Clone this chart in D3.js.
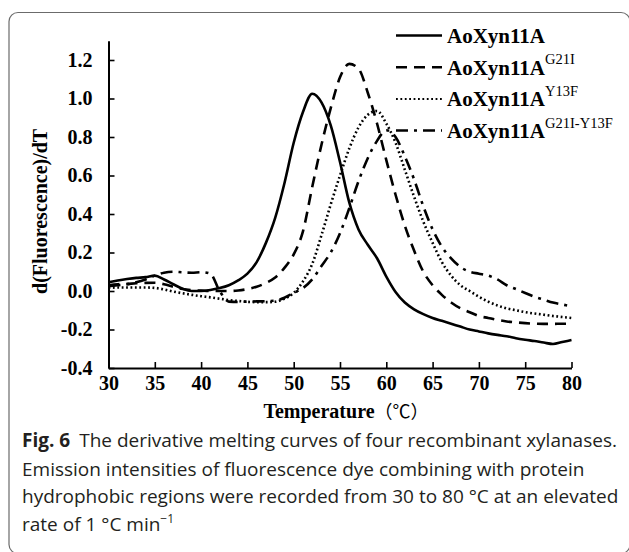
<!DOCTYPE html>
<html>
<head>
<meta charset="utf-8">
<script src="https://cdn.jsdelivr.net/npm/d3@7"></script>
<style>
body { margin: 0; background: #fff; }
</style>
</head>
<body>
<div id="app"></div>
<script>
'use strict'

// Temperature (C) of every reading
const temps = [30, 31, 32, 33, 34, 35, 36, 37, 38, 39,
	40, 41, 42, 43, 44, 45, 46, 47, 48, 49,
	50, 51, 52, 53, 54, 55, 56, 57, 58, 59,
	60, 61, 62, 63, 64, 65, 66, 67, 68, 69,
	70, 71, 72, 73, 74, 75, 76, 77, 78, 79, 80]

// d(Fluorescence)/dT for the four enzymes
const wildType = [0.045, 0.055, 0.062, 0.068, 0.072, 0.08, 0.06, 0.035, 0.012, 0.0,
	0.0, 0.005, 0.015, 0.03, 0.055, 0.09, 0.15, 0.25, 0.38, 0.56,
	0.77, 0.93, 1.025, 0.98, 0.86, 0.67, 0.46, 0.32, 0.24, 0.17,
	0.075, -0.005, -0.06, -0.095, -0.12, -0.14, -0.155, -0.17, -0.185, -0.2,
	-0.21, -0.22, -0.228, -0.235, -0.245, -0.253, -0.26, -0.268, -0.275, -0.265, -0.255]

const g21i = [0.03, 0.035, 0.037, 0.04, 0.042, 0.043, 0.035, 0.022, 0.01, 0.004,
	0.002, 0.0, 0.0, 0.0, 0.003, 0.01, 0.022, 0.042, 0.07, 0.12,
	0.19, 0.31, 0.54, 0.76, 0.95, 1.11, 1.18, 1.155, 1.03, 0.87,
	0.68, 0.5, 0.34, 0.21, 0.1, 0.03, -0.02, -0.06, -0.09, -0.11,
	-0.13, -0.14, -0.15, -0.158, -0.163, -0.167, -0.17, -0.171, -0.171, -0.17, -0.17]

const y13f = [0.017, 0.018, 0.018, 0.018, 0.018, 0.016, 0.008, -0.003, -0.012, -0.02,
	-0.027, -0.033, -0.04, -0.047, -0.052, -0.056, -0.058, -0.058, -0.056, -0.04,
	-0.01, 0.05, 0.14, 0.29, 0.45, 0.6, 0.74, 0.85, 0.915, 0.935,
	0.87, 0.77, 0.63, 0.49, 0.36, 0.25, 0.15, 0.08, 0.03, 0.0,
	-0.03, -0.055, -0.075, -0.09, -0.1, -0.11, -0.117, -0.123, -0.13, -0.135, -0.14]

const g21iY13f = [0.025, 0.03, 0.035, 0.045, 0.06, 0.08, 0.095, 0.1, 0.097, 0.095,
	0.098, 0.09, 0.0, -0.055, -0.057, -0.055, -0.054, -0.053, -0.05, -0.035,
	-0.01, 0.015, 0.06, 0.13, 0.2, 0.3, 0.43, 0.57, 0.69, 0.78,
	0.835, 0.8, 0.7, 0.58, 0.44, 0.32, 0.23, 0.17, 0.125, 0.1,
	0.09, 0.08, 0.06, 0.03, 0.01, -0.01, -0.03, -0.045, -0.06, -0.07, -0.08]

const seriesBase = 'AoXyn11A'
const seriesSup = ['', 'G21I', 'Y13F', 'G21I-Y13F']

const xTicks = [30, 35, 40, 45, 50, 55, 60, 65, 70, 75, 80]
const yTicks = [-0.4, -0.2, 0.0, 0.2, 0.4, 0.6, 0.8, 1.0, 1.2]

const captionLines = [
	'Emission intensities of fluorescence dye combining with protein',
	'hydrophobic regions were recorded from 30 to 80 °C at an elevated'
]

const main = () => {
	const W = 629
	const H = 552
	const margin = { top: 40.75, left: 108.5 }
	const width = 463
	const height = 327.25
	const serif = '"Liberation Serif", "Times New Roman", serif'
	const sans = '"Open Sans", "Noto Sans", sans-serif'

	const svg = d3.select('#app').append('svg')
		.attr('width', W)
		.attr('height', H)
		.style('display', 'block')
		.style('background', '#fff')

	// rounded figure frame
	svg.append('rect')
		.attr('x', 9)
		.attr('y', 12.5)
		.attr('width', 621)
		.attr('height', 541)
		.attr('rx', 9)
		.attr('fill', 'none')
		.attr('stroke', '#6b6b6b')
		.attr('stroke-width', 1.2)

	const g = svg.append('g')
		.attr('transform', `translate(${margin.left}, ${margin.top})`)

	const x = d3.scaleLinear().domain([30, 80]).range([0, width])
	const y = d3.scaleLinear().domain([-0.4, 1.3]).range([height, 0])

	/*
	 * Axes, ticks pointing inward
	 */
	const xAxis = g.append('g')
		.attr('transform', `translate(0, ${height})`)
		.call(d3.axisBottom(x).tickValues(xTicks).tickSize(-6).tickSizeOuter(0).tickPadding(8))

	const yAxis = g.append('g')
		.call(d3.axisLeft(y).tickValues(yTicks).tickSize(-6).tickSizeOuter(0).tickPadding(16)
			.tickFormat(d => d.toFixed(1)))

	;[xAxis, yAxis].forEach(a => {
		a.attr('font-family', serif).attr('font-size', 20)
		a.select('.domain').attr('stroke', '#000').attr('stroke-width', 2)
		a.selectAll('.tick line').attr('stroke', '#000').attr('stroke-width', 1.6)
		a.selectAll('.tick text').attr('fill', '#000').attr('font-weight', 'bold')
	})

	// axis titles
	svg.append('text')
		.attr('transform', `translate(47, ${margin.top + height / 2 + 7}) rotate(-90)`)
		.attr('text-anchor', 'middle')
		.attr('font-family', serif)
		.attr('font-weight', 'bold')
		.attr('font-size', 20)
		.text('d(Fluorescence)/dT')

	const xTitle = svg.append('text')
		.attr('x', margin.left + width / 2 + 6)
		.attr('y', 418)
		.attr('text-anchor', 'middle')
		.attr('font-family', serif)
		.attr('font-weight', 'bold')
		.attr('font-size', 20)
	xTitle.append('tspan').text('Temperature')
	xTitle.append('tspan')
		.attr('font-family', '"Noto Sans CJK SC", sans-serif')
		.attr('font-weight', 'normal')
		.attr('font-size', 18)
		.text('（℃）')

	/*
	 * Curves
	 */
	const styles = [
		{ data: wildType, dash: null },
		{ data: g21i, dash: '11,7' },
		{ data: y13f, dash: '1.8,2.6' },
		{ data: g21iY13f, dash: '12,6,3,6' }
	]

	const line = d3.line()
		.x((d, i) => x(temps[i]))
		.y(d => y(d))
		.curve(d3.curveMonotoneX)

	g.selectAll('.curve')
		.data(styles)
		.enter().append('path')
		.attr('class', 'curve')
		.attr('d', d => line(d.data))
		.attr('fill', 'none')
		.attr('stroke', '#000')
		.attr('stroke-width', 2.6)
		.attr('stroke-dasharray', d => d.dash)

	/*
	 * Legend
	 */
	const legend = svg.append('g')
		.attr('transform', 'translate(396, 43)')

	const rows = legend.selectAll('.row')
		.data(styles)
		.enter().append('g')
		.attr('class', 'row')
		.attr('transform', (d, i) => `translate(0, ${i * 31.7})`)

	rows.append('line')
		.attr('x1', 0)
		.attr('x2', 46)
		.attr('y1', -7.5)
		.attr('y2', -7.5)
		.attr('stroke', '#000')
		.attr('stroke-width', (d, i) => i === 2 ? 2 : 2.5)
		.attr('stroke-dasharray', d => d.dash)

	const labels = rows.append('text')
		.attr('x', 51)
		.attr('y', 0)
		.attr('font-family', serif)
		.attr('font-size', 21)
		.attr('font-weight', 'bold')
	labels.append('tspan').text(seriesBase)
	labels.append('tspan')
		.attr('dy', -10.5)
		.attr('font-size', 14.5)
		.attr('font-weight', 'normal')
		.text((d, i) => seriesSup[i])

	/*
	 * Caption
	 */
	const cap = svg.append('g')
		.attr('font-family', sans)
		.attr('font-size', 19)
		.attr('fill', '#231f20')

	const first = cap.append('text').attr('x', 22).attr('y', 447)
	first.append('tspan').attr('font-weight', 'bold').text('Fig. 6')
	first.append('tspan').attr('dx', 9).text('The derivative melting curves of four recombinant xylanases.')

	cap.selectAll('.capline')
		.data(captionLines)
		.enter().append('text')
		.attr('class', 'capline')
		.attr('x', 22)
		.attr('y', (d, i) => 475.5 + i * 27.5)
		.text(d => d)

	const last = cap.append('text').attr('x', 22).attr('y', 530.5)
	last.append('tspan').text('rate of 1 °C min')
	last.append('tspan').attr('dy', -8).attr('font-size', 12).text('−1')
}

main()
</script>
</body>
</html>
